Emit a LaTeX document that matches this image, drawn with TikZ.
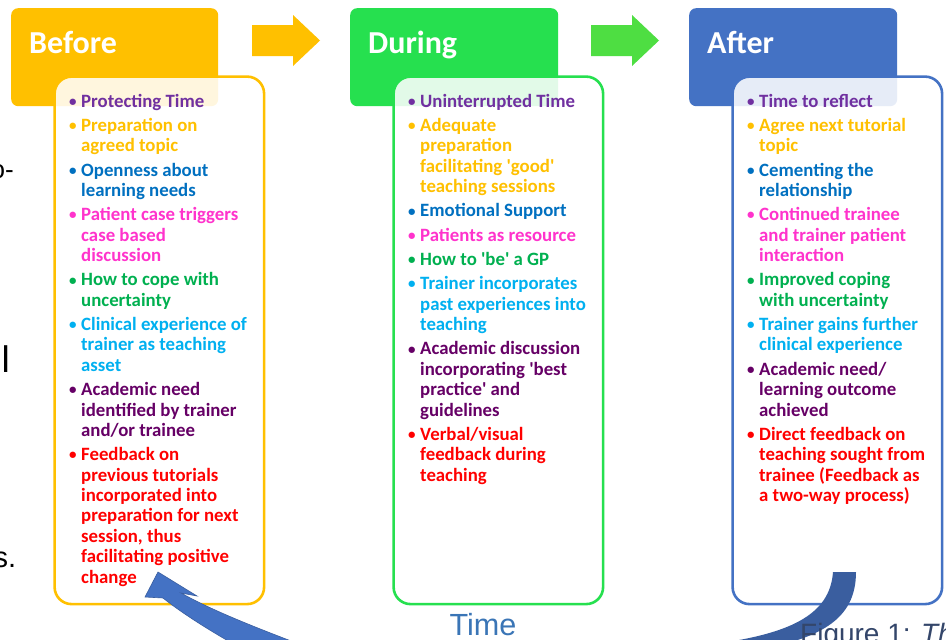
\documentclass[tikz,border=0pt]{standalone}
\usepackage{fontspec}
\newfontfamily\calfont{Carlito}
\newfontfamily\arialfont{Liberation Sans}
\definecolor{cYel}{HTML}{FFC000}
\definecolor{cGrnH}{HTML}{26E04F}
\definecolor{cGrnA}{HTML}{4EDE42}
\definecolor{cBlu}{HTML}{4472C4}
\definecolor{cBluD}{HTML}{3A5E9F}
\definecolor{tPur}{HTML}{7030A0}
\definecolor{tYel}{HTML}{FFC000}
\definecolor{tBlu}{HTML}{0070C0}
\definecolor{tPnk}{HTML}{FF33CC}
\definecolor{tGrn}{HTML}{00B050}
\definecolor{tCyn}{HTML}{00B0F0}
\definecolor{tDpu}{HTML}{660066}
\definecolor{tRed}{HTML}{FF0000}
\definecolor{timeC}{HTML}{3A75B6}
\definecolor{figC}{HTML}{34466A}
\newcommand\itm[2]{\noindent\llap{\textcolor{#1}{\raisebox{0.8pt}{\fontsize{15}{15}\selectfont\textbullet}}\hspace{4.5pt}}\textcolor{#1}{#2}\par\vspace{3.9pt}}
\newcommand\contentblock[1]{\vtop{\hsize=200pt\calfont\bfseries\fontsize{18.8}{20.4}\selectfont\parindent=0pt\parskip=0pt\raggedright #1}}
\begin{document}
\begin{tikzpicture}[x=1pt,y=-1pt,
  hdr/.style={rounded corners=7pt, fill=#1, draw=none, inner sep=0pt, anchor=north west},
  cbox/.style={rounded corners=17pt, draw=#1, line width=2.6pt, fill=white, fill opacity=0.87, draw opacity=1, inner sep=0pt, anchor=north west},
  htxt/.style={anchor=base west, inner sep=0pt, text=white, font=\calfont\bfseries\fontsize{32}{36}\selectfont},
  ctxt/.style={anchor=base west, inner sep=0pt},
  frag/.style={inner sep=0pt, text=black}]
\useasboundingbox (0,0) rectangle (946,640);
\clip (0,0) rectangle (946,640);
\fill[white] (0,0) rectangle (946,640);

% stray text fragments from the page
\node[frag, anchor=base east, font=\arialfont\fontsize{26}{30}\selectfont] (f1) at (14,178) {o-};
\node[frag, anchor=base west, font=\arialfont\fontsize{37}{40}\selectfont] (f2) at (1.5,372) {l};
\node[frag, anchor=base east, font=\arialfont\fontsize{29}{32}\selectfont] (f3) at (16.5,567) {s.};

% headers
\node[hdr=cYel, minimum width=207pt, minimum height=98pt] (hB) at (11,8) {};
\node[hdr=cGrnH, minimum width=208pt, minimum height=98pt] (hD) at (350,8) {};
\node[hdr=cBlu, minimum width=208pt, minimum height=98pt] (hA) at (689,8) {};

% content boxes
\node[cbox=cYel, minimum width=209.5pt, minimum height=527.5pt] (cB) at (53.3,75.3) {};
\node[cbox=cGrnH, minimum width=209.5pt, minimum height=527.5pt] (cD) at (392.3,75.3) {};
\node[cbox=cBlu, minimum width=209.5pt, minimum height=527.5pt] (cA) at (731.3,75.3) {};

% header texts
\node[htxt] (tB) at (29,53) {Before};
\node[htxt] (tD) at (368,53) {During};
\node[htxt] (tA) at (707,53) {After};

% block arrows between stages
\fill[cYel] (252,25) -- (293,25) -- (293,15) -- (320,40.5) -- (293,66) -- (293,56) -- (252,56) -- cycle;
\fill[cGrnA] (591,25) -- (632,25) -- (632,15) -- (659,40.5) -- (632,66) -- (632,56) -- (591,56) -- cycle;

% contents
\node[ctxt] (lB) at (81,107) {\contentblock{%
\itm{tPur}{Protecting Time}
\itm{tYel}{Preparation on\\agreed topic}
\itm{tBlu}{Openness about\\learning needs}
\itm{tPnk}{Patient case triggers\\case based\\discussion}
\itm{tGrn}{How to cope with\\uncertainty}
\itm{tCyn}{Clinical experience of\\trainer as teaching\\asset}
\itm{tDpu}{Academic need\\identified by trainer\\and/or trainee}
\itm{tRed}{Feedback on\\previous tutorials\\incorporated into\\preparation for next\\session, thus\\facilitating positive\\change}}};

\node[ctxt] (lD) at (420,107) {\contentblock{%
\itm{tPur}{Uninterrupted Time}
\itm{tYel}{Adequate\\preparation\\facilitating 'good'\\teaching sessions}
\itm{tBlu}{Emotional Support}
\itm{tPnk}{Patients as resource}
\itm{tGrn}{How to 'be' a GP}
\itm{tCyn}{Trainer incorporates\\past experiences into\\teaching}
\itm{tDpu}{Academic discussion\\incorporating 'best\\practice' and\\guidelines}
\itm{tRed}{Verbal/visual\\feedback during\\teaching}}};

\node[ctxt] (lA) at (759,107) {\contentblock{%
\itm{tPur}{Time to reflect}
\itm{tYel}{Agree next tutorial\\topic}
\itm{tBlu}{Cementing the\\relationship}
\itm{tPnk}{Continued trainee\\and trainer patient\\interaction}
\itm{tGrn}{Improved coping\\with uncertainty}
\itm{tCyn}{Trainer gains further\\clinical experience}
\itm{tDpu}{Academic need/\\learning outcome\\achieved}
\itm{tRed}{Direct feedback on\\teaching sought from\\trainee (Feedback as\\a two-way process)}}};

% cycle arrow (After back to Before), passing below the frame
\coordinate (cycTail) at (844.5,572);
\coordinate (cycTip) at (158,572);
\fill[cBluD] (833,572) -- (856,572)
  .. controls (856,620) and (820,640) .. (745,652)
  -- (700,690) -- (660,690) -- (705,645)
  .. controls (790,635) and (830,615) .. (833,572) -- cycle;
\fill[cBlu, draw=cBluD, line width=0.6pt] (cycTip) -- (197,596) -- (181,593)
  .. controls (215,612) and (262,630) .. (320,652)
  -- (330,690) -- (280,690) -- (272,665)
  .. controls (228,642) and (188,618) .. (163,598)
  -- (145,597) -- cycle;

% labels
\node[anchor=base, inner sep=0pt, text=timeC, font=\arialfont\fontsize{30.6}{34}\selectfont] (time) at (483,635) {Time};
\node[anchor=base west, inner sep=0pt, text=figC, font=\arialfont\fontsize{28}{32}\selectfont] (fig) at (800,643) {Figure 1: \textit{The}};
\end{tikzpicture}
\end{document}
